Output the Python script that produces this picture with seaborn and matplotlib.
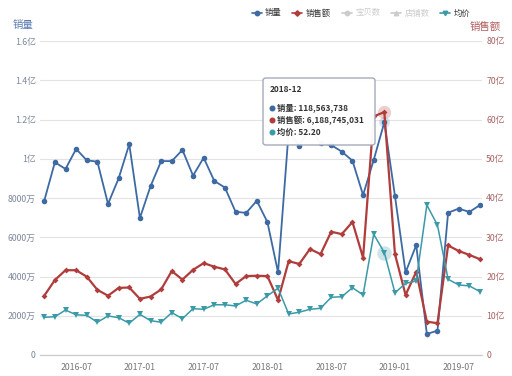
import numpy as np
import pandas as pd
import matplotlib
matplotlib.use("Agg")
import matplotlib.pyplot as plt
import seaborn as sns
from matplotlib.lines import Line2D
from matplotlib.patches import FancyBboxPatch
from matplotlib.ticker import FuncFormatter, MultipleLocator

# ---------------- data ----------------
months = pd.period_range("2016-04", "2019-09", freq="M").strftime("%Y-%m").tolist()

# 销量 (units of 万)
volume_wan = [7860, 9820, 9480, 10500, 9920, 9850, 7700, 9000, 10740, 6980,
              8600, 9880, 9880, 10450, 9140, 10050, 8870, 8530, 7300, 7240,
              7860, 6770, 4210, 11400, 10660, 11600, 10780, 10700, 10360, 9900,
              8150, 9940, 11856.3738, 8100, 4210, 5600, 1070, 1240, 7250, 7460,
              7290, 7640]
# 销售额 (units of 亿)
amount_yi = [15.1, 19.1, 21.6, 21.6, 19.95, 16.6, 15.1, 17.1, 17.2, 14.3,
             14.9, 16.7, 21.4, 19.2, 21.7, 23.4, 22.5, 21.8, 18.1, 20.1,
             20.2, 20.1, 14.0, 23.9, 23.2, 27.0, 25.7, 31.4, 30.8, 33.9,
             24.8, 60.8, 61.887, 25.7, 15.3, 21.2, 8.5, 8.1, 27.9, 26.5,
             25.5, 24.4]
# 均价
avg_price = [19.2, 19.5, 22.9, 20.5, 20.2, 16.7, 19.9, 19.0, 16.2, 20.7,
             17.5, 16.7, 21.6, 18.5, 23.6, 23.3, 25.6, 25.6, 25.0, 27.9,
             26.0, 30.2, 34.0, 20.9, 21.8, 23.3, 23.8, 29.4, 29.7, 34.3,
             30.6, 61.5, 52.2, 31.7, 36.5, 37.7, 76.4, 66.2, 38.6, 35.7,
             35.2, 32.3]

xtick_labels = ["2016-07", "2017-01", "2017-07", "2018-01", "2018-07", "2019-01", "2019-07"]
legend_names = ["销量", "销售额", "宝贝数", "店铺数", "均价"]
tooltip_month = "2018-12"

df = pd.DataFrame({
    "idx": np.arange(len(months)),
    "month": months,
    "volume": np.array(volume_wan) * 1e4,
    "amount": np.array(amount_yi) * 1e8,
    "price": avg_price,
})

# ---------------- style ----------------
sns.set_style("white")
plt.rcParams["font.family"] = ["Noto Sans CJK SC", "DejaVu Sans"]

BLUE = "#3d6aa3"
RED = "#b03c3c"
TEAL = "#3a9aa8"
GREY = "#cccccc"

W, H = 512, 376
fig = plt.figure(figsize=(W / 100, H / 100), dpi=100)
ax = fig.add_axes([40 / W, 1 - 355 / H, 442 / W, 314 / H])
ax2 = ax.twinx()
ax3 = ax.twinx()

lw = 1.3
sns.lineplot(data=df, x="idx", y="volume", ax=ax, color=BLUE, marker="o",
             markersize=4, markeredgewidth=0, linewidth=lw, zorder=3)
sns.lineplot(data=df, x="idx", y="amount", ax=ax2, color=RED, marker="D",
             markersize=3, markeredgewidth=0, linewidth=lw + 0.3, zorder=3)
sns.lineplot(data=df, x="idx", y="price", ax=ax3, color=TEAL, marker="v",
             markersize=4, markeredgewidth=0, linewidth=lw - 0.2, zorder=3)

# highlight of hovered month
hi = months.index(tooltip_month)
ax2.scatter([df.idx[hi]], [df.amount[hi]], s=90, color=RED, alpha=0.25, linewidths=0, zorder=2)
ax.scatter([df.idx[hi]], [df.volume[hi]], s=60, color=BLUE, alpha=0.2, linewidths=0, zorder=2)
ax3.scatter([df.idx[hi]], [df.price[hi]], s=110, color=TEAL, alpha=0.25, linewidths=0, zorder=2)

xmin, xmax = -0.4, 41.19
for a in (ax, ax2, ax3):
    a.set_xlim(xmin, xmax)
    a.set_xlabel("")
    a.set_ylabel("")
    for s in a.spines.values():
        s.set_visible(False)

# left axis
ax.set_ylim(0, 1.6e8)
ax.yaxis.set_major_locator(MultipleLocator(2e7))

def fmt_left(v, pos):
    if v == 0:
        return "0"
    if v >= 1e8:
        return f"{v / 1e8:g}亿"
    return f"{v / 1e4:.0f}万"

ax.yaxis.set_major_formatter(FuncFormatter(fmt_left))
ax.grid(axis="y", color="#e3e3e3", linewidth=0.8)
ax.grid(axis="x", visible=False)
ax.tick_params(axis="y", length=0, pad=3, labelsize=6.3, labelcolor="#7c879c")

# x axis
tick_pos = [months.index(m) for m in xtick_labels]
ax.set_xticks(tick_pos)
ax.set_xticklabels(xtick_labels)
ax.tick_params(axis="x", length=3, width=0.8, color="#cccccc", pad=3,
               labelsize=6.3, labelcolor="#777777")
ax.spines["bottom"].set_visible(True)
ax.spines["bottom"].set_color("#cccccc")
ax.spines["bottom"].set_linewidth(0.9)

# right axis
ax2.set_ylim(0, 8e9)
ax2.yaxis.set_major_locator(MultipleLocator(1e9))
ax2.yaxis.set_major_formatter(FuncFormatter(lambda v, p: "0" if v == 0 else f"{v / 1e8:.0f}亿"))
ax2.tick_params(axis="y", length=0, pad=3, labelsize=6.3, labelcolor="#a86262")
ax2.grid(False)

# hidden price axis
ax3.set_ylim(0, 160)
ax3.set_yticks([])
ax3.grid(False)

# axis titles
fig.text(13 / W, 1 - 25 / H, "销量", fontsize=7.5, color="#5a7bb0", va="center", ha="left")
fig.text(501 / W, 1 - 27 / H, "销售额", fontsize=7.5, color="#b05a5a", va="center", ha="right")

# legend
handles = [
    Line2D([], [], color=BLUE, marker="o", markersize=3.2, lw=1.2),
    Line2D([], [], color=RED, marker="D", markersize=2.8, lw=1.2),
    Line2D([], [], color=GREY, marker="o", markersize=3.2, lw=1.2),
    Line2D([], [], color=GREY, marker="^", markersize=3.2, lw=1.2),
    Line2D([], [], color=TEAL, marker="v", markersize=3.2, lw=1.2),
]
leg = fig.legend(handles, legend_names, loc="center", bbox_to_anchor=(361 / W, 1 - 13 / H),
                 ncol=5, frameon=False, fontsize=6, handlelength=1.2, handletextpad=0.4,
                 columnspacing=1.3)
for t, c in zip(leg.get_texts(), ["#333333", "#333333", GREY, GREY, "#333333"]):
    t.set_color(c)

# tooltip
x0, x1, yt, yb = 263, 375, 78, 145
box = FancyBboxPatch((x0 / W, 1 - yb / H), (x1 - x0) / W, (yb - yt) / H,
                     boxstyle="round,pad=0,rounding_size=0.006", transform=fig.transFigure,
                     facecolor="white", edgecolor="#a0a8b8", linewidth=1.0, alpha=0.97, zorder=20)
fig.add_artist(box)
fig.text(270 / W, 1 - 90 / H, tooltip_month, fontsize=6, fontweight="bold", color="#333333",
         va="center", ha="left", zorder=21)
rows = [
    (BLUE, f"销量: {round(volume_wan[hi] * 1e4):,}"),
    (RED, "销售额: 6,188,745,031"),
    (TEAL, f"均价: {avg_price[hi]:.2f}"),
]
for k, (c, txt) in enumerate(rows):
    yy = 1 - (108 + 12 * k) / H
    fig.add_artist(Line2D([272 / W], [yy], marker="o", markersize=3.3, color=c,
                          transform=fig.transFigure, zorder=21))
    fig.text(277 / W, yy, txt, fontsize=6, fontweight="bold", color="#333333",
             va="center", ha="left", zorder=21)

fig.savefig("out.png", dpi=100)
